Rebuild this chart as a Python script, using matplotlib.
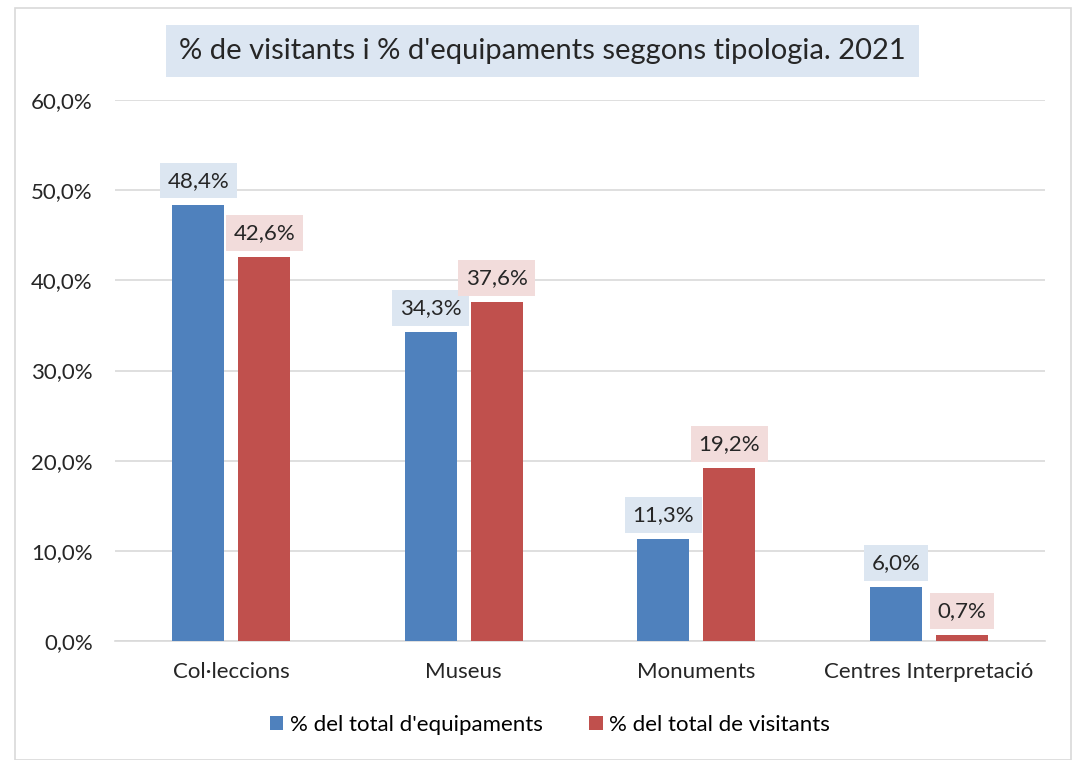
import numpy as np
import matplotlib.pyplot as plt
from matplotlib.patches import Rectangle

categories = ['Col·leccions', 'Museus', 'Monuments', 'Centres Interpretació']
equipaments = [48.4, 34.3, 11.3, 6.0]
visitants = [42.6, 37.6, 19.2, 0.7]
yticks = [0, 10, 20, 30, 40, 50, 60]

blue = '#4f81bd'
red = '#c0504d'

plt.rcParams['font.family'] = ['Lato', 'DejaVu Sans']

fig = plt.figure(figsize=(10.77, 7.6), dpi=100)
fig.patches.append(Rectangle((15 / 1077, 0.0), 1056 / 1077, 1 - 8 / 760,
                             transform=fig.transFigure, fill=False,
                             edgecolor='#d9d9d9', linewidth=1.2))
ax = fig.add_axes([115 / 1077, 1 - 641 / 760, 930 / 1077, 541 / 760])

x = np.arange(len(categories))
w = 0.224
off = 0.142
ax.bar(x - off, equipaments, w, color=blue, label="% del total d'equipaments", zorder=3)
ax.bar(x + off, visitants, w, color=red, label='% del total de visitants', zorder=3)

def fmt(v):
    return f'{v:.1f}%'.replace('.', ',')

for xi, v in zip(x - off, equipaments):
    ax.annotate(fmt(v), (xi, v), xytext=(0, 10), textcoords='offset points',
                ha='center', va='bottom', fontsize=16, color='#262626',
                bbox=dict(boxstyle='square,pad=0.35', fc='#dce6f1', ec='none'))
for xi, v in zip(x + off, visitants):
    ax.annotate(fmt(v), (xi, v), xytext=(0, 10), textcoords='offset points',
                ha='center', va='bottom', fontsize=16, color='#262626',
                bbox=dict(boxstyle='square,pad=0.35', fc='#f2dcdb', ec='none'))

ax.set_xlim(-0.5, len(categories) - 0.5)
ax.set_ylim(0, 60)
ax.set_yticks(yticks)
ax.set_yticklabels([f'{t:.1f}%'.replace('.', ',') for t in yticks])
ax.set_xticks(x)
ax.set_xticklabels(categories)
ax.tick_params(axis='both', length=0, labelsize=16, colors='#262626')
ax.tick_params(axis='y', pad=16)
ax.tick_params(axis='x', pad=15)
ax.grid(axis='y', color='#d9d9d9', linewidth=1.2, zorder=0)
for s in ['top', 'right', 'left']:
    ax.spines[s].set_visible(False)
ax.spines['bottom'].set_color('#d9d9d9')
ax.spines['bottom'].set_linewidth(1.2)

fig.text(542 / 1077, 1 - 51 / 760, "% de visitants i % d'equipaments seggons tipologia. 2021",
         ha='center', va='center', fontsize=21, color='#262626',
         bbox=dict(boxstyle='square,pad=0.45', fc='#dce6f2', ec='none'))

fig.legend(loc='center', bbox_to_anchor=(550 / 1077, 1 - 725 / 760), ncol=2,
           frameon=False, fontsize=16, handlelength=0.6, handleheight=0.6,
           handletextpad=0.3, columnspacing=2.1)

fig.savefig('out.png', dpi=100)
